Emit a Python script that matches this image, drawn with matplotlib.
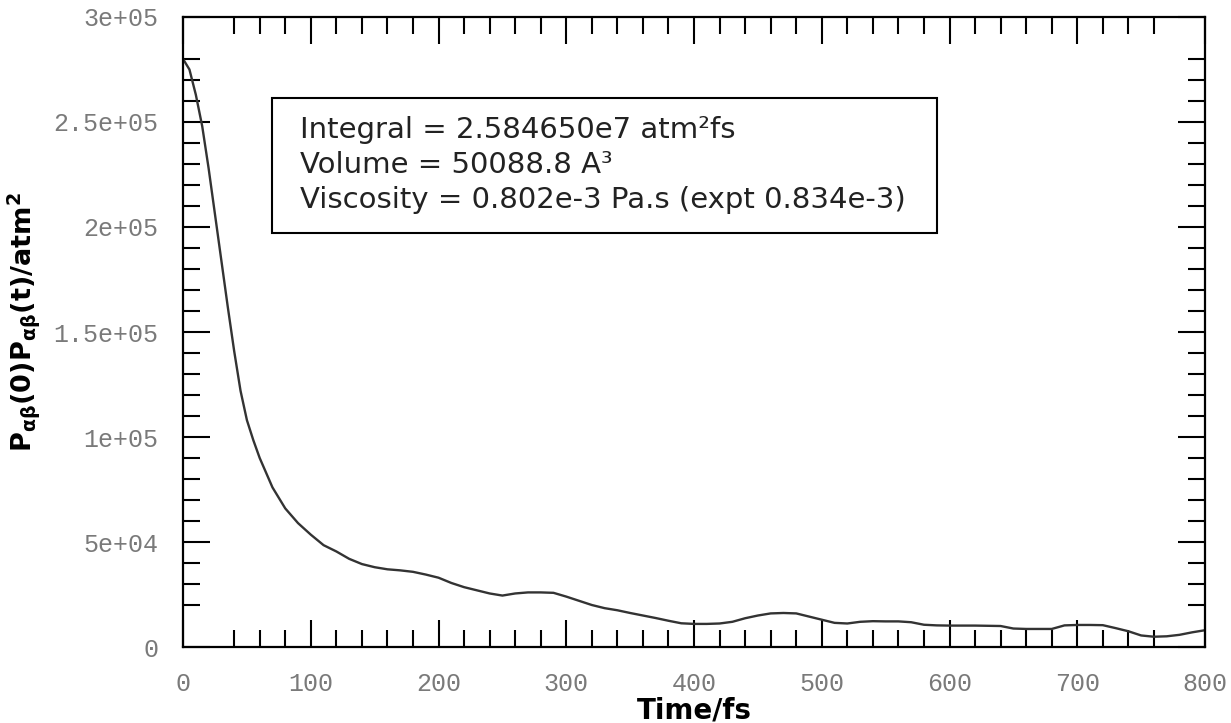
import matplotlib
matplotlib.use("Agg")
import matplotlib.pyplot as plt
from matplotlib.patches import Rectangle

# correlation function
time_fs = [0, 5, 10, 15, 20, 25, 30, 35, 40, 45, 50, 55, 60, 70, 80, 90, 100,
           110, 120, 130, 140, 150, 160, 170, 180, 190, 200, 210, 220, 230,
           240, 250, 260, 270, 280, 290, 300, 310, 320, 330, 340, 350, 360,
           370, 380, 390, 400, 410, 420, 430, 440, 450, 460, 470, 480, 490,
           500, 510, 520, 530, 540, 550, 560, 570, 580, 590, 600, 610, 620,
           630, 640, 650, 660, 670, 680, 690, 700, 710, 720, 730, 740, 750,
           760, 770, 780, 790, 800]
pcorr = [280e3, 275e3, 263e3, 248e3, 228e3, 206e3, 184e3, 162e3, 141e3,
         122e3, 108e3, 98.5e3, 90e3, 76e3, 66e3, 59e3, 53.5e3, 48.5e3, 45.5e3,
         42e3, 39.5e3, 38e3, 37e3, 36.5e3, 35.8e3, 34.5e3, 33e3, 30.5e3,
         28.5e3, 27e3, 25.5e3, 24.5e3, 25.5e3, 26e3, 26e3, 25.8e3, 24e3,
         22e3, 20e3, 18.5e3, 17.5e3, 16.2e3, 15e3, 13.8e3, 12.5e3, 11.3e3,
         11e3, 11e3, 11.2e3, 12e3, 13.7e3, 15e3, 16e3, 16.2e3, 16e3, 14.5e3,
         13e3, 11.5e3, 11.2e3, 12e3, 12.3e3, 12.2e3, 12.2e3, 11.8e3, 10.6e3,
         10.3e3, 10.2e3, 10.2e3, 10.2e3, 10.1e3, 10e3, 8.8e3, 8.6e3, 8.6e3,
         8.6e3, 10.3e3, 10.5e3, 10.5e3, 10.4e3, 9e3, 7.5e3, 5.5e3, 4.9e3,
         5.1e3, 5.8e3, 7e3, 8e3]

x_major = [0, 100, 200, 300, 400, 500, 600, 700, 800]
x_labels = ["0", "100", "200", "300", "400", "500", "600", "700", "800"]
y_major = [0, 5e4, 1e5, 1.5e5, 2e5, 2.5e5, 3e5]
y_labels = ["0", "5e+04", "1e+05", "1.5e+05", "2e+05", "2.5e+05", "3e+05"]

info_lines = ["Integral = 2.584650e7 atm\u00b2fs",
              "Volume = 50088.8 A\u00b3",
              "Viscosity = 0.802e-3 Pa.s (expt 0.834e-3)"]

fig = plt.figure(figsize=(12.31, 7.23), dpi=100)
ax = fig.add_axes([0.1487, 0.1051, 0.8302, 0.8714])

ax.plot(time_fs, pcorr, color="#333333", lw=1.7)
ax.set_xlim(0, 800)
ax.set_ylim(0, 3e5)

# minor ticks every 20 fs / 1e4, the program skips the ones next to the edges
x_minor = [v for v in range(40, 780, 20) if v % 100 != 0]
y_minor = [v * 1e4 for v in range(2, 29) if v % 5 != 0]
ax.set_xticks(x_major)
ax.set_xticklabels(x_labels)
ax.set_yticks(y_major)
ax.set_yticklabels(y_labels)
ax.set_xticks(x_minor, minor=True)
ax.set_yticks(y_minor, minor=True)

ax.tick_params(which="both", direction="in", top=True, right=True,
               width=1.5, color="black")
ax.tick_params(which="major", length=19.5, pad=18)
ax.tick_params(which="minor", length=12)
for lab in ax.get_xticklabels() + ax.get_yticklabels():
    lab.set_fontfamily("Liberation Mono")
    lab.set_fontsize(18)
    lab.set_color("#7a7a7a")
for sp in ax.spines.values():
    sp.set_linewidth(1.6)

ax.set_xlabel("Time/fs", fontsize=20, fontweight="bold", labelpad=0)
ax.set_ylabel(r"P$_{\mathregular{\alpha\beta}}$(0)P$_{\mathregular{\alpha\beta}}$(t)/atm$^{\mathregular{2}}$",
              fontsize=19.5, fontweight="bold")
ax.yaxis.set_label_coords(-0.138, 0.516)

ax.add_patch(Rectangle((0.0871, 0.6571), 0.6507, 0.2143, transform=ax.transAxes,
                       fill=False, edgecolor="black", lw=1.5, zorder=5))
for i, line in enumerate(info_lines):
    ax.text(0.1145, 0.8206 - i * 0.0555, line, transform=ax.transAxes,
            fontsize=21, va="center", ha="left", color="#222222")

fig.savefig("out.png", dpi=100)
